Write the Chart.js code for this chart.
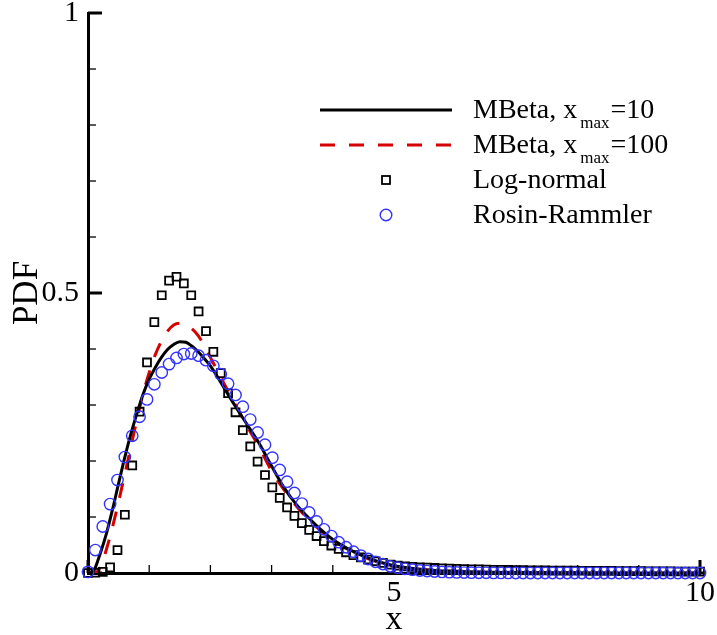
<!DOCTYPE html>
<html>
<head>
<meta charset="utf-8">
<script src="https://cdn.jsdelivr.net/npm/chart.js@4.4.1/dist/chart.umd.min.js"></script>
<style>
html,body{margin:0;padding:0;background:#fff;}
canvas{display:block;}
</style>
</head>
<body>
<canvas id="c" width="717" height="635"></canvas>
<script>
// ---- data ----
const markerX = [0,0.120,0.241,0.361,0.482,0.602,0.723,0.843,0.964,1.084,
  1.205,1.325,1.446,1.566,1.687,1.807,1.928,2.048,2.169,2.289,
  2.410,2.530,2.651,2.771,2.892,3.012,3.133,3.253,3.373,3.494,
  3.614,3.735,3.855,3.976,4.096,4.217,4.337,4.458,4.578,4.699,
  4.819,4.940,5.060,5.181,5.301,5.422,5.542,5.663,5.783,5.904,
  6.024,6.145,6.265,6.386,6.506,6.627,6.747,6.867,6.988,7.108,
  7.229,7.349,7.470,7.590,7.711,7.831,7.952,8.072,8.193,8.313,
  8.434,8.554,8.675,8.795,8.916,9.036,9.157,9.277,9.398,9.518,
  9.639,9.759,9.880,10.000];

const logNormalY = [0,0.0005,0.002,0.01,0.041,0.104,0.192,0.288,0.376,0.448,
  0.496,0.522,0.529,0.517,0.496,0.467,0.432,0.395,0.357,0.321,
  0.287,0.255,0.226,0.199,0.175,0.153,0.134,0.117,0.102,0.089,
  0.077,0.066,0.057,0.049,0.043,0.037,0.032,0.028,0.024,0.021,
  0.018,0.015,0.013,0.012,0.011,0.010,0.0095,0.009,0.0085,0.008,
  0.0075,0.007,0.0067,0.0064,0.0061,0.0058,0.0056,0.0054,0.0052,0.005,
  0.0048,0.0046,0.0045,0.0044,0.0043,0.0042,0.0041,0.004,0.0039,0.0038,
  0.0037,0.0036,0.0035,0.0034,0.0033,0.0032,0.0031,0.003,0.0029,0.0028,
  0.0027,0.0026,0.0025,0.0024];

const rosinY = [0.002,0.041,0.083,0.123,0.166,0.207,0.245,0.279,0.310,0.337,
  0.358,0.373,0.384,0.391,0.392,0.388,0.380,0.370,0.355,0.338,
  0.318,0.297,0.274,0.251,0.229,0.206,0.184,0.163,0.143,0.124,
  0.108,0.092,0.078,0.066,0.055,0.046,0.038,0.031,0.025,0.020,
  0.016,0.012,0.0095,0.0075,0.006,0.0045,0.0035,0.0027,0.002,0.0015,
  0.0011,0.0008,0.0006,0.0004,0.0003,0.0002,0.0001,0.0001,0,0,
  0,0,0,0,0,0,0,0,0,0,
  0,0,0,0,0,0,0,0,0,0,
  0,0,0,0];

const curveX = [0,0.05,0.1,0.2,0.3,0.4,0.5,0.6,0.7,0.8,0.9,1.0,1.1,1.2,1.3,1.4,1.5,1.6,1.7,1.8,1.9,2.0,
  2.2,2.4,2.6,2.8,3.0,3.2,3.4,3.6,3.8,4.0,4.25,4.5,4.75,5.0,5.5,6,6.5,7,8,9,10];

const mbeta10Y = [0,0,0.005,0.035,0.07,0.113,0.16,0.206,0.248,0.285,0.319,0.346,0.367,0.385,0.399,0.408,0.413,0.412,0.405,0.395,0.383,0.37,
  0.335,0.299,0.265,0.231,0.191,0.153,0.123,0.099,0.078,0.06,0.043,0.03,0.02,0.013,0.006,0.003,0.0015,0.001,0.0003,0.0001,0];

const mbeta100Y = [0,0,0,0.01,0.042,0.082,0.127,0.176,0.225,0.274,0.32,0.358,0.39,0.414,0.432,0.443,0.446,0.443,0.436,0.424,0.406,0.385,
  0.343,0.302,0.262,0.224,0.182,0.149,0.12,0.096,0.076,0.059,0.042,0.029,0.019,0.012,0.006,0.003,0.0015,0.001,0.0003,0.0001,0];

const xMajorTicks = [0,5,10];
const xMinorTicks = [1,2,3,4,6,7,8,9];
const xLabelled = [5,10];
const yMajorTicks = [0,0.5,1];
const yMinorTicks = [0.1,0.2,0.3,0.4,0.6,0.7,0.8,0.9];
const yLabelled = [0,0.5,1];

const legendMain = ['MBeta, x','MBeta, x','Log-normal','Rosin-Rammler'];
const legendSub  = ['max','max','',''];
const legendTail = ['=10','=100','',''];

const xTitle = 'x';
const yTitle = 'PDF';

// ---- styling ----
const SERIF = "'Liberation Serif','Times New Roman',serif";
const RED = 'rgb(214,0,0)';
const BLUE = 'rgb(52,52,255)';

const pts = (xs, ys) => xs.map((x, i) => ({x: x, y: ys[i]}));

const axisTicks = {
  id: 'axisTicks',
  beforeDatasetsDraw(chart) {
    const {ctx, chartArea: a, scales: {x, y}} = chart;
    ctx.save();
    ctx.strokeStyle = '#000';
    const seg = (x1, y1, x2, y2, w) => {
      ctx.lineWidth = w; ctx.beginPath(); ctx.moveTo(x1, y1); ctx.lineTo(x2, y2); ctx.stroke();
    };
    yMajorTicks.forEach(v => { const p = y.getPixelForValue(v); seg(a.left, p, a.left + 14, p, 3); });
    yMinorTicks.forEach(v => { const p = y.getPixelForValue(v); seg(a.left, p, a.left + 8, p, 1.3); });
    xMajorTicks.forEach(v => { const p = x.getPixelForValue(v); seg(p, a.bottom, p, a.bottom - 13, 3); });
    xMinorTicks.forEach(v => { const p = x.getPixelForValue(v); seg(p, a.bottom, p, a.bottom - 8, 1.3); });
    seg(a.right, a.bottom, a.right + 4, a.bottom, 3);
    ctx.restore();
  }
};

const customLegend = {
  id: 'customLegend',
  afterDraw(chart) {
    const ctx = chart.ctx;
    ctx.save();
    const textX = 473, lineX1 = 320, lineX2 = 452, markX = 386;
    const baselines = [118, 153, 188, 223];
    legendMain.forEach((t, i) => {
      const b = baselines[i];
      const cy = b - 8;
      if (i === 0 || i === 1) {
        ctx.strokeStyle = i === 0 ? '#000' : RED;
        ctx.lineWidth = 3;
        ctx.setLineDash(i === 0 ? [] : [15, 14]);
        ctx.beginPath(); ctx.moveTo(lineX1, cy); ctx.lineTo(lineX2, cy); ctx.stroke();
        ctx.setLineDash([]);
      } else if (i === 2) {
        ctx.strokeStyle = '#000'; ctx.lineWidth = 1.8;
        ctx.strokeRect(markX - 4, cy - 4, 8, 8);
      } else {
        ctx.strokeStyle = BLUE; ctx.lineWidth = 1.4;
        ctx.beginPath(); ctx.arc(markX, cy, 5.8, 0, Math.PI * 2); ctx.stroke();
      }
      ctx.fillStyle = '#000';
      ctx.textBaseline = 'alphabetic';
      ctx.textAlign = 'left';
      ctx.font = '28px ' + SERIF;
      ctx.fillText(t, textX, b);
      let xx = textX + ctx.measureText(t).width;
      if (legendSub[i]) {
        xx += 3;
        ctx.font = '17px ' + SERIF;
        ctx.fillText(legendSub[i], xx, b + 10);
        xx += ctx.measureText(legendSub[i]).width + 1;
        ctx.font = '28px ' + SERIF;
        ctx.fillText(legendTail[i], xx, b);
      }
    });
    ctx.restore();
  }
};

new Chart(document.getElementById('c'), {
  type: 'scatter',
  data: {
    datasets: [
      {
        label: 'Rosin-Rammler', data: pts(markerX, rosinY), showLine: false,
        pointStyle: 'circle', pointRadius: 5.7, borderColor: BLUE, backgroundColor: 'rgba(0,0,0,0)',
        borderWidth: 1.4, clip: false, order: 1
      },
      {
        label: 'Log-normal', data: pts(markerX, logNormalY), showLine: false,
        pointStyle: 'rect', pointRadius: 5.6, borderColor: '#000', backgroundColor: 'rgba(0,0,0,0)',
        borderWidth: 1.8, clip: false, order: 2
      },
      {
        label: 'MBeta, xmax=10', data: pts(curveX, mbeta10Y), showLine: true,
        borderColor: '#000', borderWidth: 3, pointRadius: 0, cubicInterpolationMode: 'monotone',
        fill: false, order: 3
      },
      {
        label: 'MBeta, xmax=100', data: pts(curveX, mbeta100Y), showLine: true,
        borderColor: RED, borderWidth: 3, borderDash: [15, 14], pointRadius: 0,
        cubicInterpolationMode: 'monotone', fill: false, order: 4
      }
    ]
  },
  options: {
    responsive: false,
    animation: false,
    devicePixelRatio: 1,
    layout: {padding: {top: 13, right: 17, bottom: 0, left: 0}},
    plugins: {legend: {display: false}, tooltip: {enabled: false}},
    scales: {
      x: {
        type: 'linear', min: 0, max: 10,
        afterBuildTicks: s => { s.ticks = xMajorTicks.map(v => ({value: v})); },
        ticks: {
          callback: v => xLabelled.includes(v) ? String(v) : '',
          font: {family: SERIF, size: 30}, color: '#000', padding: 2,
          maxRotation: 0, autoSkip: false
        },
        grid: {display: false, drawTicks: false},
        border: {display: true, width: 3, color: '#000'},
        title: {display: true, text: xTitle, color: '#000',
          font: {family: SERIF, size: 34, lineHeight: 0.8}, padding: {top: 0, bottom: 1.5}},
        afterFit: s => { s.height = 62; s.paddingLeft = 0; s.paddingRight = 0; }
      },
      y: {
        type: 'linear', min: 0, max: 1,
        afterBuildTicks: s => { s.ticks = yMajorTicks.map(v => ({value: v})); },
        ticks: {
          callback: v => yLabelled.includes(v) ? String(v) : '',
          font: {family: SERIF, size: 30}, color: '#000', padding: 9, autoSkip: false
        },
        grid: {display: false, drawTicks: false},
        border: {display: true, width: 3, color: '#000'},
        title: {display: true, text: yTitle, color: '#000',
          font: {family: SERIF, size: 35, lineHeight: 1}, padding: {top: 10, bottom: 0}},
        afterFit: s => { s.width = 88; s.paddingTop = 0; s.paddingBottom = 0; }
      }
    }
  },
  plugins: [axisTicks, customLegend]
});
</script>
</body>
</html>
